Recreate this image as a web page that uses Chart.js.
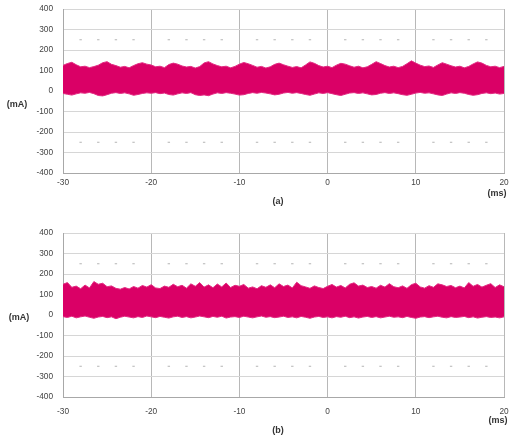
<!DOCTYPE html>
<html>
<head>
<meta charset="utf-8">
<script src="https://cdn.jsdelivr.net/npm/chart.js@4/dist/chart.umd.min.js"></script>
<style>
  body { margin: 0; background: #fff; }
  #page { position: relative; width: 513px; height: 443px; overflow: hidden; }
  .box { position: absolute; left: 0; line-height: 0; }
  .lbl { position: absolute; font: bold 9px "Liberation Sans", Arial, sans-serif; color: #333; text-align: center; width: 40px; line-height: 10px; }
</style>
</head>
<body>
<div id="page">
  <div class="box" style="top:0"><canvas id="chartA" width="513" height="215"></canvas></div>
  <div class="box" style="top:220px"><canvas id="chartB" width="513" height="223"></canvas></div>
  <div class="lbl" style="left:-3px;top:99px">(mA)</div>
  <div class="lbl" style="left:477px;top:188px">(ms)</div>
  <div class="lbl" style="left:258px;top:196px">(a)</div>
  <div class="lbl" style="left:-1px;top:312px">(mA)</div>
  <div class="lbl" style="left:478px;top:415px">(ms)</div>
  <div class="lbl" style="left:258px;top:425px">(b)</div>
</div>
<script>
// time axis (ms), envelope read every 0.5 ms
const timeMs = [
  -30, -29.5, -29, -28.5, -28, -27.5, -27, -26.5, -26, -25.5,
  -25, -24.5, -24, -23.5, -23, -22.5, -22, -21.5, -21, -20.5,
  -20, -19.5, -19, -18.5, -18, -17.5, -17, -16.5, -16, -15.5,
  -15, -14.5, -14, -13.5, -13, -12.5, -12, -11.5, -11, -10.5,
  -10, -9.5, -9, -8.5, -8, -7.5, -7, -6.5, -6, -5.5,
  -5, -4.5, -4, -3.5, -3, -2.5, -2, -1.5, -1, -0.5,
  0, 0.5, 1, 1.5, 2, 2.5, 3, 3.5, 4, 4.5,
  5, 5.5, 6, 6.5, 7, 7.5, 8, 8.5, 9, 9.5,
  10, 10.5, 11, 11.5, 12, 12.5, 13, 13.5, 14, 14.5,
  15, 15.5, 16, 16.5, 17, 17.5, 18, 18.5, 19, 19.5,
  20
];

// (a) upper / lower edge of the current band (mA)
const upperA = [
  125, 134, 140, 128, 118, 121, 114, 119, 126, 138,
  143, 130, 124, 116, 120, 113, 124, 133, 138, 131,
  127, 118, 121, 114, 129, 136, 131, 122, 117, 120,
  112, 119, 137, 143, 132, 124, 118, 121, 113, 120,
  131, 139, 133, 125, 116, 120, 112, 118, 130, 136,
  128, 121, 115, 119, 113, 127, 142, 135, 124, 117,
  121, 114, 126, 135, 131, 123, 116, 121, 113, 118,
  130, 143, 134, 124, 117, 121, 114, 120, 133, 147,
  136, 126, 119, 122, 115, 127, 138, 131, 123, 117,
  121, 113, 120, 132, 142, 136, 125, 118, 121, 114,
  120
];
const lowerA = [
  -12, -16, -20, -14, -9, -11, -7, -13, -22, -24,
  -18, -11, -8, -12, -9, -14, -21, -17, -12, -9,
  -11, -8, -13, -10, -17, -20, -14, -9, -12, -8,
  -18, -22, -19, -23, -15, -9, -12, -8, -11, -15,
  -20, -18, -12, -8, -11, -7, -10, -14, -19, -16,
  -10, -7, -11, -8, -12, -17, -21, -15, -9, -12,
  -8, -13, -18, -22, -16, -10, -8, -12, -9, -14,
  -19, -17, -11, -8, -12, -9, -13, -18, -21, -16,
  -10, -7, -11, -9, -14, -19, -22, -15, -9, -12,
  -8, -11, -17, -21, -18, -12, -9, -13, -10, -15,
  -12
];

// (b) upper / lower edge of the current band (mA)
const upperB = [
  150, 158, 135, 141, 128, 146, 132, 163, 150, 155,
  138, 142, 130, 126, 134, 127, 139, 131, 144, 136,
  148, 132, 129, 141, 135, 150, 138, 145, 131, 152,
  140, 158, 136, 147, 133, 151, 137, 156, 134, 145,
  140, 149, 131, 137, 128, 143, 135, 147, 133, 152,
  139, 146, 132, 160, 143, 137, 130, 142, 134, 129,
  140, 149, 136, 144, 132, 150, 157, 141, 146, 134,
  139, 131, 145, 136, 153, 138, 133, 142, 130, 148,
  155, 137, 131, 143, 135, 152, 147, 139, 144, 133,
  141, 132, 158, 140, 149, 136, 145, 153, 134, 147,
  138
];
const lowerB = [
  -8, -12, -6, -14, -9, -5, -11, -16, -10, -7,
  -13, -9, -18, -11, -6, -10, -14, -8, -12, -5,
  -9, -13, -7, -11, -15, -9, -6, -12, -8, -14,
  -10, -5, -9, -13, -7, -11, -6, -15, -10, -8,
  -12, -6, -10, -14, -9, -5, -11, -8, -13, -10,
  -6, -12, -9, -14, -7, -11, -16, -10, -7, -12,
  -9, -14, -8, -11, -6, -13, -9, -15, -10, -7,
  -12, -8, -14, -10, -6, -11, -9, -13, -7, -12,
  -16, -10, -8, -13, -9, -6, -11, -14, -8, -12,
  -10, -7, -13, -9, -15, -11, -8, -12, -10, -14,
  -9
];

// dotted guide lines at +/-250 mA
const dotX = [-28, -26, -24, -22, -18, -16, -14, -12, -8, -6, -4, -2, 2, 4, 6, 8, 12, 14, 16, 18];
const dotLevels = [250, -250];

const xTicks = [-30, -20, -10, 0, 10, 20];
const yTicks = [-400, -300, -200, -100, 0, 100, 200, 300, 400];

const bandColor = "rgb(218,0,102)";
const edgeColor = "rgb(226,40,128)";
const tickFont = { family: "'Liberation Sans', Arial, sans-serif", size: 8.3 };

function pts(xs, ys) {
  return xs.map((x, i) => ({ x: x, y: ys[i] }));
}

function makeChart(id, upper, lower, padTop, axisH, labelPad) {
  const dots = [];
  dotLevels.forEach(lv => dotX.forEach(x => dots.push({ x: x, y: lv })));
  return new Chart(document.getElementById(id), {
    type: "line",
    data: {
      datasets: [
        {
          data: pts(timeMs, lower),
          borderColor: edgeColor,
          borderWidth: 1,
          pointRadius: 0,
          tension: 0,
          fill: false
        },
        {
          data: pts(timeMs, upper),
          borderColor: edgeColor,
          backgroundColor: bandColor,
          borderWidth: 1,
          pointRadius: 0,
          tension: 0,
          fill: "-1"
        },
        {
          type: "scatter",
          data: dots,
          pointStyle: "line",
          pointRadius: 1.2,
          borderColor: "#b4b4b4",
          borderWidth: 1,
          showLine: false
        }
      ]
    },
    options: {
      responsive: false,
      animation: false,
      layout: { autoPadding: false, padding: { top: padTop, right: 9, left: 0, bottom: 0 } },
      plugins: { legend: { display: false }, tooltip: { enabled: false } },
      scales: {
        x: {
          type: "linear",
          min: -30,
          max: 20,
          afterBuildTicks: s => { s.ticks = xTicks.map(v => ({ value: v })); },
          afterFit: s => {
            s.height = axisH;
            s.paddingLeft = 0;
            s.paddingRight = 0;
          },
          ticks: { font: tickFont, color: "#444", padding: labelPad, maxRotation: 0 },
          grid: { color: "#b8b8b8", drawTicks: false },
          border: { color: "#a8a8a8" }
        },
        y: {
          min: -400,
          max: 400,
          afterBuildTicks: s => { s.ticks = yTicks.map(v => ({ value: v })); },
          afterFit: s => {
            s.width = 63;
            s.paddingTop = 0;
            s.paddingBottom = 0;
          },
          ticks: { font: tickFont, color: "#444", padding: 10 },
          grid: { color: "#d6d6d6", drawTicks: false },
          border: { color: "#a8a8a8" }
        }
      }
    }
  });
}

makeChart("chartA", upperA, lowerA, 9, 42, 5);
makeChart("chartB", upperB, lowerB, 13, 46, 10);
</script>
</body>
</html>
